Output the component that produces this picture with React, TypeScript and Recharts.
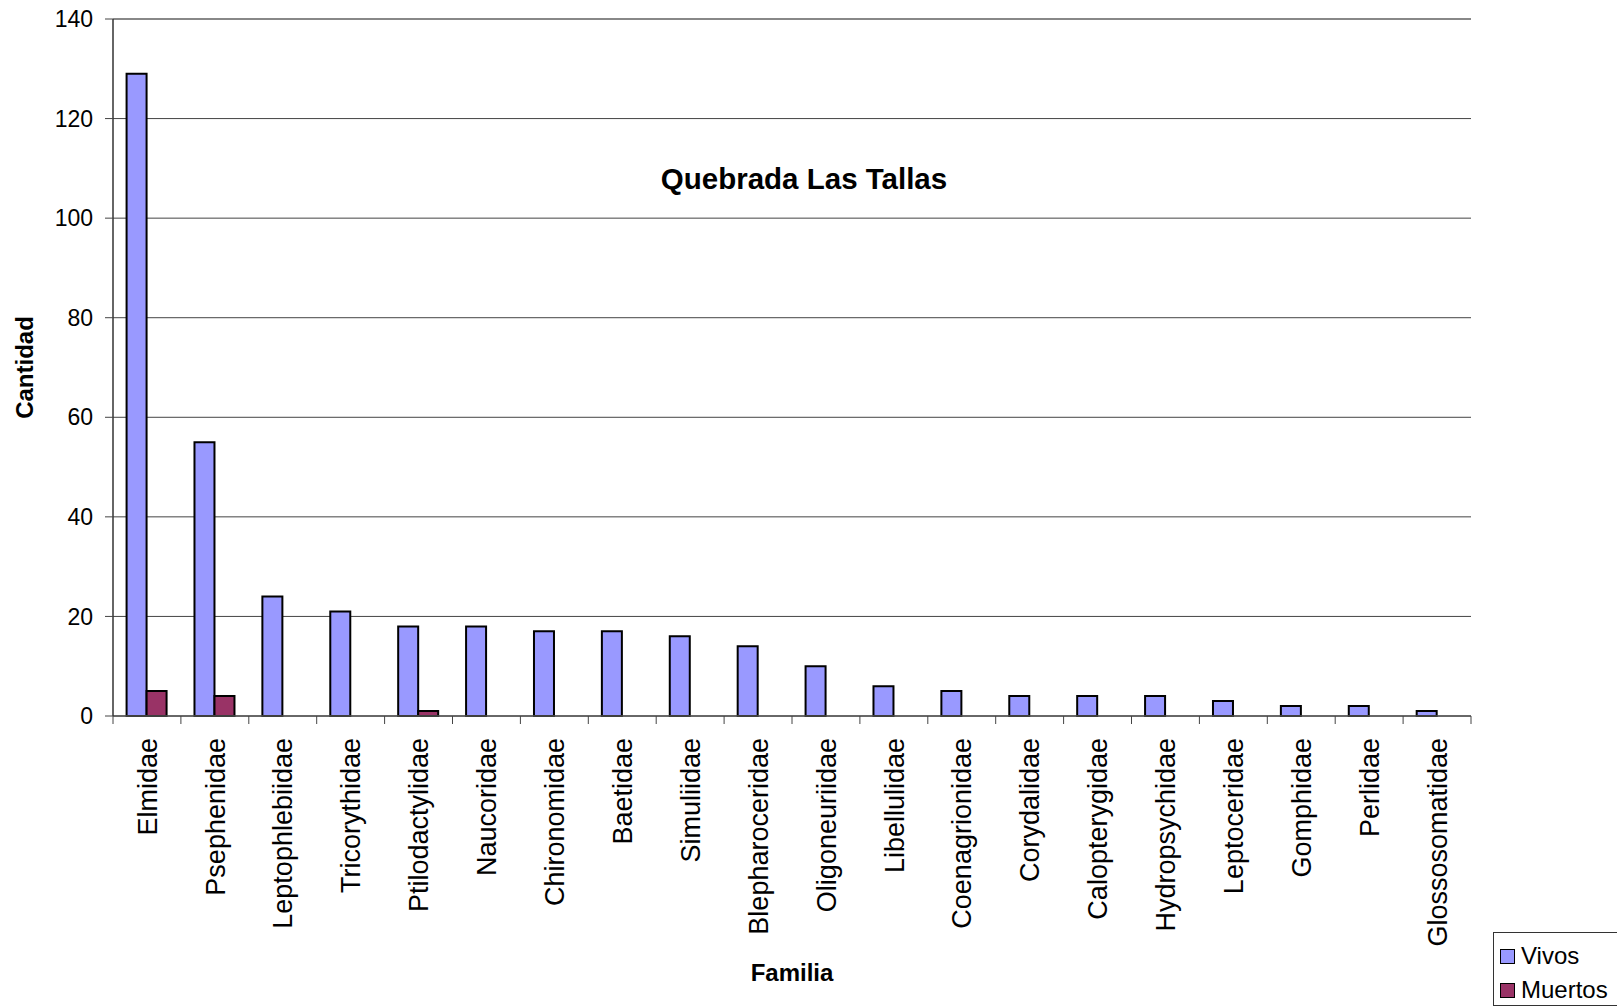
import { BarChart, Bar, XAxis, YAxis, CartesianGrid, Legend, Label, ReferenceLine } from 'recharts'

const familias = [
    'Elmidae', 'Psephenidae', 'Leptophlebiidae', 'Tricorythidae', 'Ptilodactylidae',
    'Naucoridae', 'Chironomidae', 'Baetidae', 'Simuliidae', 'Blepharoceridae',
    'Oligoneuriidae', 'Libellulidae', 'Coenagrionidae', 'Corydalidae', 'Calopterygidae',
    'Hydropsychidae', 'Leptoceridae', 'Gomphidae', 'Perlidae', 'Glossosomatidae',
]
const vivos = [129, 55, 24, 21, 18, 18, 17, 17, 16, 14, 10, 6, 5, 4, 4, 4, 3, 2, 2, 1]
const muertos = [5, 4, 0, 0, 1, 0, 0, 0, 0, 0, 0, 0, 0, 0, 0, 0, 0, 0, 0, 0]
const yTicks = [0, 20, 40, 60, 80, 100, 120, 140]

const data = familias.map((f, i) => ({ familia: f, Vivos: vivos[i], Muertos: muertos[i] }))

const FONT = '"Liberation Sans", Arial, Helvetica, sans-serif'
const VIVOS_COLOR = '#9999FF'
const MUERTOS_COLOR = '#993366'
const TICK_SIZE = 8
const TICK_MARGIN = 14

const FamiliaTick = (props: any) => {
    const { x, y, payload, index } = props
    const half = payload.offset ?? 34
    const axisY = y - TICK_SIZE - TICK_MARGIN
    return (
        <g>
            <line x1={x - half} x2={x - half} y1={axisY} y2={axisY + TICK_SIZE} stroke="#444" />
            {index === familias.length - 1 && (
                <line x1={x + half} x2={x + half} y1={axisY} y2={axisY + TICK_SIZE} stroke="#444" />
            )}
            <text
                x={x}
                y={y}
                dy="0.36em"
                transform={`rotate(-90, ${x}, ${y})`}
                textAnchor="end"
                fontSize={27}
                fontFamily={FONT}
                fill="#000"
            >
                {payload.value}
            </text>
        </g>
    )
}

const LegendBox = () => (
    <div
        style={{
            border: '1px solid #333',
            background: '#fff',
            boxSizing: 'border-box',
            width: 140,
            height: 74,
            padding: '6px 0 0 6px',
            fontFamily: FONT,
            fontSize: 24,
            lineHeight: '34px',
        }}
    >
        {[{ name: 'Vivos', color: VIVOS_COLOR }, { name: 'Muertos', color: MUERTOS_COLOR }].map((item) => (
            <div key={item.name} style={{ display: 'flex', alignItems: 'center', height: 34 }}>
                <span
                    style={{
                        display: 'inline-block',
                        width: 13,
                        height: 13,
                        background: item.color,
                        border: '1.5px solid #000',
                        marginRight: 6,
                    }}
                />
                <span>{item.name}</span>
            </div>
        ))}
    </div>
)

export default function App() {
    return (
        <div style={{ position: 'fixed', left: 0, top: 0, width: 1617, height: 1006, overflow: 'hidden', background: '#fff' }}>
            <BarChart
                width={1617}
                height={1006}
                data={data}
                margin={{ top: 19, right: 146, bottom: 0, left: 0 }}
                barCategoryGap="20%"
                barGap={0}
            >
                <CartesianGrid vertical={false} stroke="#444" />
                <XAxis
                    dataKey="familia"
                    interval={0}
                    height={290}
                    tickLine={false}
                    tickSize={TICK_SIZE}
                    tickMargin={TICK_MARGIN}
                    tick={<FamiliaTick />}
                    axisLine={{ stroke: '#555', strokeWidth: 1.5 }}
                >
                    <Label
                        content={({ viewBox }: any) => (
                            <text
                                x={viewBox.x + viewBox.width / 2}
                                y={981}
                                textAnchor="middle"
                                fontSize={24}
                                fontWeight="bold"
                                fontFamily={FONT}
                                fill="#000"
                            >
                                Familia
                            </text>
                        )}
                    />
                </XAxis>
                <YAxis
                    width={113}
                    domain={[0, 140]}
                    ticks={yTicks}
                    interval={0}
                    tickSize={TICK_SIZE}
                    tickMargin={12}
                    tickLine={{ stroke: '#444' }}
                    axisLine={{ stroke: '#333', strokeWidth: 1.5 }}
                    tick={{ fontSize: 23, fontFamily: FONT, fill: '#000' }}
                >
                    <Label
                        content={({ viewBox }: any) => {
                            const cx = 25
                            const cy = viewBox.y + viewBox.height / 2
                            return (
                                <text
                                    x={cx}
                                    y={cy}
                                    dy="0.35em"
                                    transform={`rotate(-90, ${cx}, ${cy})`}
                                    textAnchor="middle"
                                    fontSize={24}
                                    fontWeight="bold"
                                    fontFamily={FONT}
                                    fill="#000"
                                >
                                    Cantidad
                                </text>
                            )
                        }}
                    />
                </YAxis>
                <YAxis
                    yAxisId="r"
                    orientation="right"
                    width={0}
                    domain={[0, 140]}
                    tick={false}
                    tickLine={false}
                    axisLine={{ stroke: '#888', strokeWidth: 2 }}
                />
                <ReferenceLine y={140} stroke="#888" strokeWidth={2} />
                <Legend
                    layout="vertical"
                    align="center"
                    verticalAlign="middle"
                    wrapperStyle={{ left: 1493, top: 932, width: 140, height: 74 }}
                    content={<LegendBox />}
                />
                <Bar dataKey="Vivos" fill={VIVOS_COLOR} stroke="#000" strokeWidth={2} isAnimationActive={false} />
                <Bar dataKey="Muertos" fill={MUERTOS_COLOR} stroke="#000" strokeWidth={2} isAnimationActive={false} />
            </BarChart>
            <div
                style={{
                    position: 'absolute',
                    left: 804,
                    top: 179,
                    transform: 'translate(-50%, -50%)',
                    fontFamily: FONT,
                    fontSize: 29.5,
                    fontWeight: 'bold',
                    whiteSpace: 'nowrap',
                }}
            >
                Quebrada Las Tallas
            </div>
        </div>
    )
}
